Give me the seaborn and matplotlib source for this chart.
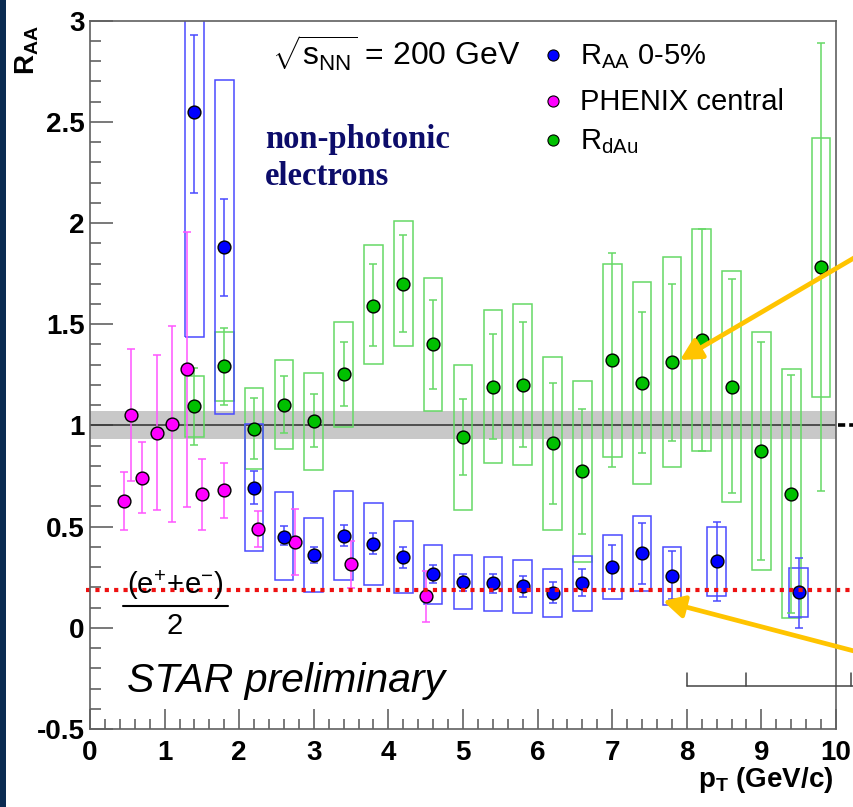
import numpy as np
import pandas as pd
import matplotlib
matplotlib.use("Agg")
import matplotlib.pyplot as plt
import seaborn as sns
from matplotlib.patches import Rectangle, FancyArrowPatch
from matplotlib.lines import Line2D
from matplotlib.ticker import MultipleLocator

# ---------------- data ----------------
# STAR non-photonic electron R_AA 0-5%
star_pt = [1.4, 1.8, 2.2, 2.6, 3.0, 3.4, 3.8, 4.2, 4.6, 5.0, 5.4, 5.8, 6.2, 6.6, 7.0, 7.4, 7.8, 8.4, 9.5]
star_raa = [2.55, 1.88, 0.69, 0.45, 0.36, 0.455, 0.415, 0.35, 0.265, 0.228, 0.219, 0.208, 0.173, 0.223, 0.301, 0.369, 0.257, 0.328, 0.178]
star_err_hi = [2.93, 2.12, 0.776, 0.501, 0.40, 0.506, 0.470, 0.401, 0.309, 0.268, 0.264, 0.255, 0.224, 0.29, 0.411, 0.518, 0.38, 0.521, 0.347]
star_err_lo = [2.15, 1.64, 0.612, 0.408, 0.321, 0.403, 0.365, 0.298, 0.219, 0.183, 0.170, 0.150, 0.121, 0.157, 0.191, 0.216, 0.142, 0.134, 0.0]
star_sys_hi = [3.3, 2.705, 1.009, 0.671, 0.543, 0.676, 0.618, 0.528, 0.411, 0.362, 0.351, 0.334, 0.293, 0.354, 0.461, 0.553, 0.401, 0.497, 0.298]
star_sys_lo = [1.436, 1.057, 0.378, 0.236, 0.178, 0.236, 0.214, 0.173, 0.117, 0.091, 0.085, 0.075, 0.052, 0.085, 0.142, 0.183, 0.112, 0.159, 0.053]

# PHENIX central
phx_pt = [0.45, 0.55, 0.7, 0.9, 1.1, 1.3, 1.5, 1.8, 2.25, 2.75, 3.5, 4.5]
phx_raa = [0.627, 1.053, 0.741, 0.965, 1.006, 1.277, 0.661, 0.679, 0.487, 0.426, 0.314, 0.159]
phx_err_hi = [0.768, 1.377, 0.92, 1.347, 1.489, 1.958, 0.835, 0.815, 0.577, 0.589, 0.431, 0.282]
phx_err_lo = [0.484, 0.727, 0.567, 0.584, 0.521, 0.595, 0.485, 0.543, 0.398, 0.26, 0.195, 0.03]

# R_dAu
dau_pt = [1.4, 1.8, 2.2, 2.6, 3.0, 3.4, 3.8, 4.2, 4.6, 5.0, 5.4, 5.8, 6.2, 6.6, 7.0, 7.4, 7.8, 8.2, 8.6, 9.0, 9.4, 9.8]
dau_r = [1.094, 1.295, 0.981, 1.103, 1.024, 1.252, 1.592, 1.70, 1.401, 0.945, 1.191, 1.201, 0.912, 0.773, 1.321, 1.211, 1.313, 1.421, 1.191, 0.873, 0.663, 1.781]
dau_err_hi = [1.282, 1.482, 1.135, 1.242, 1.154, 1.413, 1.796, 1.94, 1.62, 1.132, 1.452, 1.511, 1.211, 1.081, 1.851, 1.561, 1.70, 1.971, 1.722, 1.411, 1.25, 2.889]
dau_err_lo = [0.904, 1.101, 0.833, 0.963, 0.894, 1.095, 1.393, 1.462, 1.181, 0.753, 0.933, 0.892, 0.613, 0.462, 0.794, 0.865, 0.922, 0.873, 0.664, 0.334, 0.075, 0.674]
dau_sys_hi = [1.242, 1.464, 1.183, 1.323, 1.26, 1.511, 1.89, 2.009, 1.73, 1.301, 1.57, 1.60, 1.339, 1.221, 1.799, 1.71, 1.83, 1.971, 1.763, 1.461, 1.28, 2.421]
dau_sys_lo = [0.943, 1.121, 0.784, 0.883, 0.781, 0.993, 1.303, 1.392, 1.073, 0.584, 0.814, 0.804, 0.484, 0.323, 0.843, 0.713, 0.794, 0.873, 0.623, 0.285, 0.047, 1.142]

band_lo, band_hi = 0.935, 1.07       # normalisation uncertainty band
ee_level = 0.186                     # (e+ + e-)/2 level

x_ticks = [0, 1, 2, 3, 4, 5, 6, 7, 8, 9, 10]
x_tick_labels = ["0", "1", "2", "3", "4", "5", "6", "7", "8", "9", "10"]
y_ticks = [-0.5, 0, 0.5, 1, 1.5, 2, 2.5, 3]
y_tick_labels = ["-0.5", "0", "0.5", "1", "1.5", "2", "2.5", "3"]

legend_labels = [r"$\mathrm{R_{AA}}$ 0-5%", "PHENIX central", r"$\mathrm{R_{dAu}}$"]

# ---------------- style ----------------
sns.set_theme(style="white")
plt.rcParams["font.family"] = ["Liberation Sans", "DejaVu Sans"]
plt.rcParams["mathtext.fontset"] = "custom"
plt.rcParams["mathtext.rm"] = "Liberation Sans"
plt.rcParams["mathtext.bf"] = "Liberation Sans:bold"
plt.rcParams["mathtext.it"] = "Liberation Sans:italic"
plt.rcParams["mathtext.sf"] = "Liberation Sans"
plt.rcParams["axes.unicode_minus"] = False
plt.rcParams["text.color"] = "black"
plt.rcParams["axes.labelcolor"] = "black"
plt.rcParams["xtick.labelcolor"] = "black"
plt.rcParams["ytick.labelcolor"] = "black"

BLUE = "#0000ff"
BLUE_L = "#4a4aff"
MAG = "#ff00ff"
MAG_L = "#ff55ff"
GREEN = "#00c000"
GREEN_L = "#66d966"

W, H = 854, 807


def fx(p):
    return p / W


def fy(p):
    return 1 - p / H


fig = plt.figure(figsize=(W / 100, H / 100), dpi=100)
fig.patch.set_facecolor("white")
ax = fig.add_axes([fx(90), fy(729), (836 - 90) / W, (729 - 20.7) / H])
ax.set_facecolor("white")

# band and unity line
ax.axhspan(band_lo, band_hi, color="#c8c8c8", lw=0, zorder=0.5)
ax.axhline(1.0, color="#3a3a3a", lw=1.2, zorder=1)

# systematic boxes
bw = 0.25
for x, lo, hi in zip(dau_pt, dau_sys_lo, dau_sys_hi):
    ax.add_patch(Rectangle((x - bw / 2, lo), bw, hi - lo, fill=False, ec=GREEN_L, lw=1.1, zorder=2))
for x, lo, hi in zip(star_pt, star_sys_lo, star_sys_hi):
    ax.add_patch(Rectangle((x - bw / 2, lo), bw, hi - lo, fill=False, ec=BLUE_L, lw=1.1, zorder=2.1))


def ebar(xs, ys, lo, hi, col):
    ys = np.asarray(ys)
    yerr = [ys - np.asarray(lo), np.asarray(hi) - ys]
    ax.errorbar(xs, ys, yerr=yerr, fmt="none", ecolor=col, elinewidth=1.1,
                capsize=2.8, capthick=1.1, zorder=3)


ebar(dau_pt, dau_r, dau_err_lo, dau_err_hi, GREEN_L)
ebar(star_pt, star_raa, star_err_lo, star_err_hi, BLUE_L)
ebar(phx_pt, phx_raa, phx_err_lo, phx_err_hi, MAG_L)

# points
kw = dict(s=85, edgecolor="black", linewidth=1.0, legend=False, ax=ax, zorder=5)
sns.scatterplot(x=dau_pt, y=dau_r, color=GREEN, **kw)
sns.scatterplot(x=phx_pt, y=phx_raa, color=MAG, **kw)
sns.scatterplot(x=star_pt, y=star_raa, color=BLUE, **kw)

# (e+ + e-)/2 dotted line
ax.plot([-0.05, 10.4], [ee_level, ee_level], color="#ee1111", lw=3.0,
        linestyle=(0, (1, 1.25)), dash_capstyle="butt", clip_on=False, zorder=6)
# dotted continuation of unity line outside the frame
ax.plot([10.03, 10.3], [1.0, 1.0], color="black", lw=2.6,
        linestyle=(0, (2, 1.1)), dash_capstyle="butt", clip_on=False, zorder=6)

# axes
ax.set_xlim(0, 10)
ax.set_ylim(-0.5, 3)
ax.set_xticks(x_ticks)
ax.set_xticklabels(x_tick_labels, fontweight="bold", fontsize=20, color="black")
ax.set_yticks(y_ticks)
ax.set_yticklabels(y_tick_labels, fontweight="bold", fontsize=20, color="black")
ax.xaxis.set_minor_locator(MultipleLocator(0.2))
ax.yaxis.set_minor_locator(MultipleLocator(0.1))
ax.tick_params(which="both", direction="in", bottom=True, left=True, top=False, right=False,
               color="#555555", width=1.1)
ax.tick_params(axis="x", which="major", length=14.5, pad=8)
ax.tick_params(axis="x", which="minor", length=7.2)
ax.tick_params(axis="y", which="major", length=16.5, pad=4)
ax.tick_params(axis="y", which="minor", length=8)
for s in ax.spines.values():
    s.set_color("#606060")
    s.set_linewidth(1.2)
    s.set_zorder(7)
ax.grid(False)

# axis titles
fig.text(fx(27.5), fy(25), r"$\mathbf{R_{AA}}$", rotation=90, ha="center", va="top", fontsize=20)
fig.text(fx(833), fy(787), r"$\mathbf{p_{T}}$ (GeV/c)", ha="right", va="baseline",
         fontsize=20, fontweight="bold")

# annotations
fig.text(fx(272), fy(66), r"$\sqrt{\mathrm{s_{NN}}}$ = 200 GeV", fontsize=23, va="baseline")
fig.text(fx(265), fy(148), "non-photonic", family=["Liberation Serif", "DejaVu Serif"],
         fontweight="bold", fontsize=23.5, color="#0c0c6a", va="baseline")
fig.text(fx(265), fy(185), "electrons", family=["Liberation Serif", "DejaVu Serif"],
         fontweight="bold", fontsize=23.5, color="#0c0c6a", va="baseline")
fig.text(fx(127), fy(692), "STAR preliminary", fontstyle="italic", fontsize=29.5, va="baseline")
fig.text(fx(175.5), fy(593.5), r"$\mathrm{(e^{+}\!+\!e^{-})}$", fontsize=21, ha="center", va="baseline")
fig.add_artist(Line2D([fx(122.7), fx(228.3)], [fy(605.7), fy(605.7)], color="black", lw=1.5))
fig.text(fx(174.6), fy(634), "2", fontsize=21, ha="center", va="baseline")

# legend (manual, ROOT style)
leg_cols = [BLUE, MAG, GREEN]
leg_base = [64, 110, 149]
for lab, c, b in zip(legend_labels, leg_cols, leg_base):
    fig.add_artist(Line2D([fx(552.7)], [fy(b - 9.5)], marker="o", ms=8, mfc=c, mec="black",
                          mew=0.8, ls="none"))
    fig.text(fx(580), fy(b), lab, fontsize=21, va="baseline")

# yellow arrows
for (xa, ya), (xb, yb) in [((872, 247.4), (680, 360)), ((872, 655.7), (663, 601))]:
    fig.add_artist(FancyArrowPatch((fx(xa), fy(ya)), (fx(xb), fy(yb)), transform=fig.transFigure,
                                   arrowstyle="-|>,head_length=0.85,head_width=0.45",
                                   mutation_scale=15, color="#ffc400", lw=3.4,
                                   shrinkA=0, shrinkB=0, zorder=10))

# bracket fragment at lower right
for xs, ys in [([687, 856], [686, 686]), ([687, 687], [673, 686]),
               ([746.5, 746.5], [673, 686]), ([851, 851], [673, 686])]:
    fig.add_artist(Line2D([fx(v) for v in xs], [fy(v) for v in ys], color="#444444", lw=1.1))

# navy strip on the left edge
fig.add_artist(Rectangle((0, 0), fx(6), 1, transform=fig.transFigure, color="#0b2b52", lw=0))

fig.savefig("out.png", dpi=100)
